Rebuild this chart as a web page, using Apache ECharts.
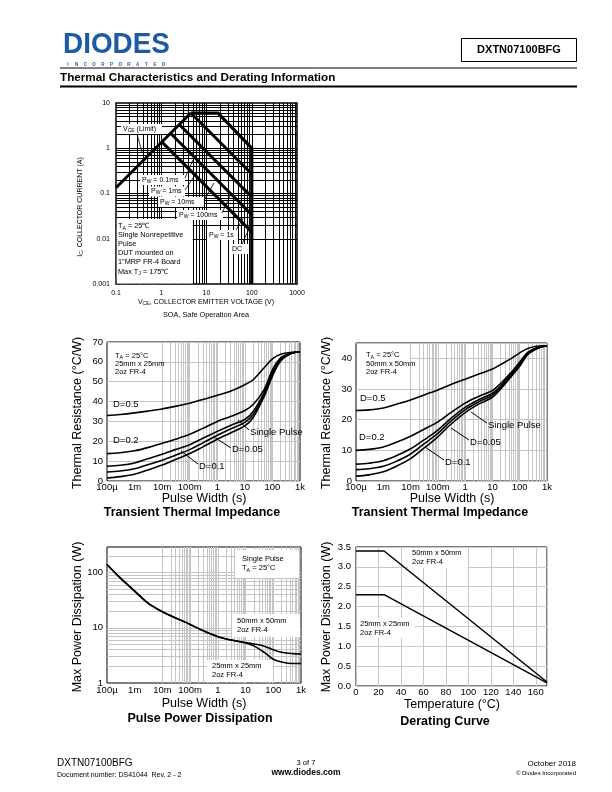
<!DOCTYPE html>
<html><head><meta charset="utf-8">
<script src="https://cdn.jsdelivr.net/npm/echarts@6/dist/echarts.min.js"></script>
<style>html,body{margin:0;padding:0;background:#fff}#c{width:612px;height:792px}</style>
</head><body><div id="c"></div>
<script>
// ---------------- DATA ----------------
// SOA chart (log-log)
const soaXTickLabels = ['0.1', '1', '10', '100', '1000'];
const soaYTickLabels = ['0.001', '0.01', '0.1', '1', '10'];
const soaVceLimit = [[0.1, 0.134], [4.5, 6]];
const soaOuter = [[4.5, 6], [18, 6], [100, 1], [100, 0.001]];
const soaPulse1 = [[4.5, 6], [100, 0.27]];
const soaPulse2 = [[2.5, 3.35], [100, 0.084]];
const soaPulse3 = [[1.6, 2.15], [100, 0.034]];
const soaPulse4 = [[1.03, 1.38], [100, 0.0142]];

// Pulse width categories (s) shared by transient / pulse power charts
const pulseWidth = [1e-4, 3e-4, 1e-3, 3e-3, 1e-2, 3e-2, 0.1, 0.3, 1, 3, 10, 20, 50, 100, 200, 500, 1000];
const pwTickLabels = ['100µ', '1m', '10m', '100m', '1', '10', '100', '1k'];

// Transient thermal impedance, 25mm x 25mm (°C/W)
const tti25_D05 = [33, 33.5, 34.3, 35.2, 36.3, 37.6, 39.2, 41, 43.2, 45.2, 48.5, 51, 57, 61.5, 63.8, 64.8, 65];
const tti25_D02 = [13.8, 14.2, 15.2, 16.8, 19, 21, 23.5, 26.5, 30, 32.5, 35.5, 38.5, 46, 56, 62, 64.5, 65];
const tti25_D01 = [7.4, 7.9, 9.1, 11.2, 13.5, 15.8, 18.3, 21.5, 25, 28, 31, 35, 44.5, 54.5, 61.5, 64.5, 65];
const tti25_D005 = [4.5, 5, 6.2, 8.2, 10.5, 13, 15.8, 19.2, 23, 26.2, 29.5, 33.5, 43.5, 53.5, 61, 64.4, 65];
const tti25_SP = [1.5, 2.2, 3.4, 5.5, 8, 10.8, 13.8, 17.2, 21, 24.2, 27.8, 32, 42.5, 52.8, 60.5, 64.3, 65];

// Transient thermal impedance, 50mm x 50mm (°C/W)
const tti50_D05 = [23, 23.2, 23.8, 25, 26.4, 28, 29.7, 31.5, 33.2, 34.8, 36.5, 38, 40, 41.8, 43.2, 44, 44];
const tti50_D02 = [10, 10.3, 11.1, 12.6, 14.6, 16.8, 19.3, 22.3, 25.4, 27.5, 29.5, 31.8, 35.5, 38.8, 42, 43.7, 44];
const tti50_D01 = [5.5, 5.8, 6.6, 8.2, 10.5, 13.3, 16.6, 20.4, 24, 26.4, 28.6, 31, 35, 38.2, 41.7, 43.6, 44];
const tti50_D005 = [3.7, 4, 4.8, 6.4, 8.8, 12, 15.5, 19.5, 23.2, 25.7, 28, 30.5, 34.6, 37.8, 41.5, 43.5, 44];
const tti50_SP = [1.6, 2, 3, 4.8, 7.3, 10.6, 14.4, 18.5, 22.3, 25, 27.3, 30, 34.2, 37.4, 41.3, 43.4, 44];

// Pulse power dissipation (W)
const ppd50 = [140, 80, 46, 28, 19.5, 15, 11.5, 8.8, 6.9, 6, 5.4, 5.1, 4.6, 4.0, 3.6, 3.4, 3.35];
const ppd25 = [140, 80, 46, 28, 19.5, 15, 11.5, 8.8, 6.9, 6, 5.3, 4.7, 3.5, 2.7, 2.4, 2.25, 2.25];
const ppdYTickLabels = ['1', '10', '100'];

// Derating curve
const derTemp = [0, 25, 170];
const der50 = [3.4, 3.4, 0.1];
const der25 = [2.3, 2.3, 0.08];

// ---------------- HELPERS ----------------
const FONT = '"Liberation Sans", Arial, Helvetica, sans-serif';
const mctx = document.createElement('canvas').getContext('2d');
function fnt(size, bold) { return (bold ? 'bold ' : '') + size + 'px ' + FONT; }
function T(x, y, text, size, o) {
  o = o || {};
  return { type: 'text', x: x, y: y, z: 100, rotation: o.rot || 0, scaleX: o.sx || 1,
    style: { text: text, x: 0, y: 0, font: fnt(size, o.bold), fill: o.color || '#000',
      textAlign: o.align || 'left', textVerticalAlign: o.va || 'middle',
      align: o.align || 'left', verticalAlign: o.va || 'middle' } };
}
// text with subscripts: parts = [[text, isSub], ...]
function S(x, y, parts, size, o) {
  o = o || {};
  const subSize = size * 0.72;
  let widths = parts.map(p => { mctx.font = fnt(p[1] ? subSize : size, o.bold); return mctx.measureText(p[0]).width; });
  const total = widths.reduce((a, b) => a + b, 0);
  let cx = o.align === 'center' ? -total / 2 : (o.align === 'right' ? -total : 0);
  const kids = [];
  parts.forEach((p, i) => {
    kids.push({ type: 'text', z: 100, x: cx, y: p[1] ? size * 0.3 : 0,
      style: { text: p[0], x: 0, y: 0, font: fnt(p[1] ? subSize : size, o.bold), fill: '#000',
        textAlign: 'left', align: 'left', textVerticalAlign: 'middle', verticalAlign: 'middle' } });
    cx += widths[i];
  });
  return { type: 'group', x: x, y: y, rotation: o.rot || 0, z: 100, children: kids };
}
function R(x, y, w, h) {
  return { type: 'rect', z: 99, shape: { x: x, y: y, width: w, height: h }, style: { fill: '#fff' } };
}
function L(x1, y1, x2, y2, w) {
  return { type: 'line', z: 101, shape: { x1: x1, y1: y1, x2: x2, y2: y2 }, style: { stroke: '#000', lineWidth: w || 1 } };
}
function logMinor(e0, e1, maxV) {
  const out = [];
  for (let e = e0; e < e1; e++) for (let k = 1; k <= 9; k++) {
    const v = k * Math.pow(10, e);
    if (v > Math.pow(10, e0) * 1.0001 && (!maxV || v < maxV * 0.999)) out.push(+v.toPrecision(6));
  }
  return out;
}
function logFormatter(labels, e0) {
  return function (v) {
    const l = Math.log10(v); const e = Math.round(l);
    if (Math.abs(l - e) > 1e-6) return '';
    return labels[e - e0] || '';
  };
}
function gridSeries(idx, xs, ys, color, width) {
  return { type: 'line', xAxisIndex: idx, yAxisIndex: idx, data: [], z: 1, silent: true,
    markLine: { z: 1, silent: true, symbol: 'none', animation: false, label: { show: false },
      lineStyle: { color: color, width: width, type: 'solid' },
      data: xs.map(v => ({ xAxis: v })).concat(ys.map(v => ({ yAxis: v }))) } };
}
function curve(idx, xs, ys, w, smooth) {
  return { type: 'line', xAxisIndex: idx, yAxisIndex: idx, z: 10, symbol: 'none', silent: true,
    smooth: smooth || false, animation: false,
    lineStyle: { color: '#000', width: w }, data: xs.map((x, i) => [x, ys[i]]) };
}
function pts(idx, arr, w) {
  return { type: 'line', xAxisIndex: idx, yAxisIndex: idx, z: 10, symbol: 'none', silent: true, animation: false,
    lineStyle: { color: '#000', width: w, join: 'miter' }, data: arr };
}
const lblSmall = { fontSize: 7, color: '#000', fontFamily: FONT };
const lblMid = { fontSize: 9.5, color: '#000', fontFamily: FONT };

// ---------------- CHART ----------------
const chart = echarts.init(document.getElementById('c'), null, { renderer: 'canvas' });
const noLine = { show: false };
const border = { show: true, borderColor: '#000', borderWidth: 1, backgroundColor: 'transparent' };

const grids = [
  Object.assign({ left: 116, top: 103, width: 181, height: 181 }, border, { borderWidth: 1.5 }),
  Object.assign({ left: 107, top: 342, width: 193, height: 139 }, border),
  Object.assign({ left: 356, top: 343, width: 191, height: 138 }, border),
  Object.assign({ left: 107, top: 547, width: 194, height: 136 }, border),
  Object.assign({ left: 356, top: 547, width: 191, height: 139 }, border)
];

function logX(idx, min, max, labels, e0, lbl, margin) {
  return { type: 'log', logBase: 10, gridIndex: idx, min: min, max: max, axisLine: noLine, axisTick: noLine,
    splitLine: noLine, minorSplitLine: noLine,
    axisLabel: Object.assign({ formatter: logFormatter(labels, e0), margin: margin, showMinLabel: true, showMaxLabel: true }, lbl) };
}

const xAxes = [
  logX(0, 0.1, 1000, soaXTickLabels, -1, lblSmall, 6),
  logX(1, 1e-4, 1000, pwTickLabels, -4, lblMid, 1.5),
  logX(2, 1e-4, 1000, pwTickLabels, -4, lblMid, 1.5),
  logX(3, 1e-4, 1000, pwTickLabels, -4, lblMid, 2),
  { type: 'value', gridIndex: 4, min: 0, max: 170, interval: 20, axisLine: noLine, axisTick: noLine,
    splitLine: { show: true, lineStyle: { color: '#c8c8c8', width: 1 } },
    axisLabel: Object.assign({ margin: 1, showMaxLabel: false }, lblMid) }
];
const yAxes = [
  { type: 'log', logBase: 10, gridIndex: 0, min: 0.001, max: 10, axisLine: noLine, axisTick: noLine, splitLine: noLine,
    axisLabel: Object.assign({ formatter: logFormatter(soaYTickLabels, -3), margin: 6 }, lblSmall) },
  { type: 'value', gridIndex: 1, min: 0, max: 70, interval: 10, axisLine: noLine, axisTick: noLine,
    splitLine: { show: true, lineStyle: { color: '#c4c4c4', width: 1 } }, axisLabel: Object.assign({ margin: 4 }, lblMid) },
  { type: 'value', gridIndex: 2, min: 0, max: 45, interval: 10, axisLine: noLine, axisTick: noLine,
    splitLine: { show: true, lineStyle: { color: '#c4c4c4', width: 1 } },
    axisLabel: Object.assign({ margin: 4, formatter: v => (v % 10 === 0 ? String(v) : '') }, lblMid) },
  { type: 'log', logBase: 10, gridIndex: 3, min: 1, max: 290, axisLine: noLine, axisTick: noLine, splitLine: noLine,
    axisLabel: Object.assign({ formatter: logFormatter(ppdYTickLabels, 0), margin: 4 }, lblMid) },
  { type: 'value', gridIndex: 4, min: 0, max: 3.5, interval: 0.5, axisLine: noLine, axisTick: noLine,
    splitLine: { show: true, lineStyle: { color: '#c8c8c8', width: 1 } },
    axisLabel: Object.assign({ margin: 5, formatter: v => v.toFixed(1) }, lblMid) }
];

const series = [
  gridSeries(0, logMinor(-1, 3), logMinor(-3, 1), '#000', 1),
  gridSeries(1, logMinor(-4, 3), [], '#c4c4c4', 1),
  gridSeries(2, logMinor(-4, 3), [], '#c4c4c4', 1),
  gridSeries(3, logMinor(-4, 3), logMinor(0, 3, 290), '#c4c4c4', 1),
  pts(0, soaVceLimit, 3), pts(0, soaOuter, 3.2), pts(0, soaPulse1, 3), pts(0, soaPulse2, 3),
  pts(0, soaPulse3, 3), pts(0, soaPulse4, 3),
  curve(1, pulseWidth, tti25_D05, 1.6, 0.35), curve(1, pulseWidth, tti25_D02, 1.6, 0.35),
  curve(1, pulseWidth, tti25_D01, 1.6, 0.35), curve(1, pulseWidth, tti25_D005, 1.6, 0.35),
  curve(1, pulseWidth, tti25_SP, 1.6, 0.35),
  curve(2, pulseWidth, tti50_D05, 1.6, 0.35), curve(2, pulseWidth, tti50_D02, 1.6, 0.35),
  curve(2, pulseWidth, tti50_D01, 1.6, 0.35), curve(2, pulseWidth, tti50_D005, 1.6, 0.35),
  curve(2, pulseWidth, tti50_SP, 1.6, 0.35),
  curve(3, pulseWidth, ppd50, 1.6, 0.35), curve(3, pulseWidth, ppd25, 1.6, 0.35),
  curve(4, derTemp, der50, 1.5, false), curve(4, derTemp, der25, 1.5, false)
];

const g = [];
// Header
g.push(T(63, 45, 'DIODES', 30, { bold: true, color: '#1d5aa6', sx: 0.93 }));
const incLetters = 'INCORPORATED'.split('');
incLetters.forEach((ch, i) => g.push(T(68 + i * 8.7, 65, ch, 4.5, { bold: true, color: '#1d5aa6', align: 'center' })));
g.push({ type: 'rect', z: 100, shape: { x: 461.5, y: 38.5, width: 115, height: 23 }, style: { fill: '#fff', stroke: '#000', lineWidth: 1 } });
g.push(T(519, 50, 'DXTN07100BFG', 11, { bold: true, align: 'center' }));
g.push({ type: 'line', z: 100, shape: { x1: 60, y1: 68, x2: 577, y2: 68 }, style: { stroke: '#000', lineWidth: 1 } });
g.push(T(60, 77.5, 'Thermal Characteristics and Derating Information', 11.7, { bold: true }));
g.push({ type: 'line', z: 100, shape: { x1: 60, y1: 86.5, x2: 577, y2: 86.5 }, style: { stroke: '#000', lineWidth: 2 } });

// SOA texts
g.push(S(80, 207, [['I', 0], ['C', 1], [', COLLECTOR CURRENT (A)', 0]], 7, { rot: Math.PI / 2, align: 'center' }));
g.push(S(206, 302, [['V', 0], ['CE', 1], [', COLLECTOR EMITTER VOLTAGE (V)', 0]], 7, { align: 'center' }));
g.push(T(206, 315, 'SOA, Safe Operation Area', 7.3, { align: 'center' }));
g.push(R(121, 124, 41, 10)); g.push(S(123, 129, [['V', 0], ['CE', 1], [' (Limit)', 0]], 7));
g.push(L(137, 134, 142, 152, 0.8));
g.push(R(140, 175, 45, 10)); g.push(S(142, 180, [['P', 0], ['W', 1], [' = 0.1ms', 0]], 7));
g.push(R(149, 186.5, 36, 10)); g.push(S(151, 191, [['P', 0], ['W', 1], [' = 1ms', 0]], 7));
g.push(R(158, 197, 46, 10)); g.push(S(160, 202, [['P', 0], ['W', 1], [' = 10ms', 0]], 7));
g.push(R(177, 210, 46, 10)); g.push(S(179, 215, [['P', 0], ['W', 1], [' = 100ms', 0]], 7));
g.push(R(207, 230, 31, 10)); g.push(S(209, 235, [['P', 0], ['W', 1], [' = 1s', 0]], 7));
g.push(R(230, 244, 18, 10)); g.push(T(232, 249, 'DC', 7));
g.push(L(185, 178, 193, 160, 0.8)); g.push(L(185, 190, 197, 172, 0.8));
g.push(L(204, 200, 214, 183, 0.8)); g.push(L(222, 213, 230, 196, 0.8));
g.push(L(236, 230, 244, 217, 0.8)); g.push(L(242, 244, 249, 229, 0.8));
g.push(R(116.8, 219, 76, 64.5));
g.push(S(118, 226, [['T', 0], ['A', 1], [' = 25℃', 0]], 7.3));
g.push(T(118, 235, 'Single Nonrepetitive', 7.3));
g.push(T(118, 244, 'Pulse', 7.3));
g.push(T(118, 253, 'DUT mounted on', 7.3));
g.push(T(118, 262, '1"MRP FR-4 Board', 7.3));
g.push(S(118, 271.5, [['Max T', 0], ['J', 1], [' = 175℃', 0]], 7.3));

// Transient 25mm
g.push(T(78, 413, 'Thermal Resistance (°C/W)', 12.5, { rot: Math.PI / 2, align: 'center' }));
g.push(T(204, 498.5, 'Pulse Width (s)', 12.5, { align: 'center' }));
g.push(T(192, 512.5, 'Transient Thermal Impedance', 12.5, { bold: true, align: 'center' }));
g.push(R(109, 345, 50, 32));
g.push(S(115, 355.5, [['T', 0], ['A', 1], [' = 25°C', 0]], 7.5));
g.push(T(115, 363.5, '25mm x 25mm', 7.5));
g.push(T(115, 371.5, '2oz FR-4', 7.5));
g.push(T(113, 404, 'D=0.5', 9.5)); g.push(T(113, 440, 'D=0.2', 9.5));
g.push(T(250, 432.5, 'Single Pulse', 9.5)); g.push(T(232, 449.5, 'D=0.05', 9.5)); g.push(T(199, 466, 'D=0.1', 9.5));
g.push(L(249, 430, 238, 420)); g.push(L(231, 448, 214, 437)); g.push(L(198, 464, 181, 451));

// Transient 50mm
g.push(T(327, 413, 'Thermal Resistance (°C/W)', 12.5, { rot: Math.PI / 2, align: 'center' }));
g.push(T(452, 498.5, 'Pulse Width (s)', 12.5, { align: 'center' }));
g.push(T(440, 512.5, 'Transient Thermal Impedance', 12.5, { bold: true, align: 'center' }));
g.push(R(358, 346, 52, 31));
g.push(S(366, 355, [['T', 0], ['A', 1], [' = 25°C', 0]], 7.5));
g.push(T(366, 363.5, '50mm x 50mm', 7.5));
g.push(T(366, 372, '2oz FR-4', 7.5));
g.push(T(360, 398.5, 'D=0.5', 9.5)); g.push(T(359, 437, 'D=0.2', 9.5));
g.push(T(488, 425, 'Single Pulse', 9.5)); g.push(T(470, 442, 'D=0.05', 9.5)); g.push(T(445, 462, 'D=0.1', 9.5));
g.push(L(487, 423, 471, 412)); g.push(L(469, 440, 451, 428)); g.push(L(444, 460, 425, 447));

// Pulse power
g.push(T(78, 617, 'Max Power Dissipation (W)', 12.5, { rot: Math.PI / 2, align: 'center' }));
g.push(T(204, 703.5, 'Pulse Width (s)', 12.5, { align: 'center' }));
g.push(T(200, 718.5, 'Pulse Power Dissipation', 12.5, { bold: true, align: 'center' }));
g.push(R(235, 550, 64, 28));
g.push(T(242, 559, 'Single Pulse', 7.5));
g.push(S(242, 568, [['T', 0], ['A', 1], [' = 25°C', 0]], 7.5));
g.push(R(232, 614, 68, 23));
g.push(T(237, 621, '50mm x 50mm', 7.5)); g.push(T(237, 630, '2oz FR-4', 7.5));
g.push(R(207, 660, 66, 22));
g.push(T(212, 666, '25mm x 25mm', 7.5)); g.push(T(212, 675, '2oz FR-4', 7.5));

// Derating
g.push(T(327, 617, 'Max Power Dissipation (W)', 12.5, { rot: Math.PI / 2, align: 'center' }));
g.push(T(452, 704.5, 'Temperature (°C)', 12.5, { align: 'center' }));
g.push(T(445, 721.5, 'Derating Curve', 12.5, { bold: true, align: 'center' }));
g.push(R(408, 548, 60, 20));
g.push(T(412, 553, '50mm x 50mm', 7.5)); g.push(T(412, 562, '2oz FR-4', 7.5));
g.push(R(357, 618, 58, 20));
g.push(T(360, 624, '25mm x 25mm', 7.5)); g.push(T(360, 633, '2oz FR-4', 7.5));

// Footer
g.push(T(57, 763, 'DXTN07100BFG', 10));
g.push(T(57, 775, 'Document number: DS41044  Rev. 2 - 2', 7));
g.push(T(306, 763, '3 of 7', 7.5, { align: 'center' }));
g.push(T(306, 773, 'www.diodes.com', 8.5, { bold: true, align: 'center' }));
g.push(T(576, 764, 'October 2018', 8, { align: 'right' }));
g.push(T(576, 773.5, '© Diodes Incorporated', 6, { align: 'right' }));

chart.setOption({
  animation: false,
  backgroundColor: '#fff',
  textStyle: { fontFamily: FONT },
  grid: grids, xAxis: xAxes, yAxis: yAxes, series: series,
  graphic: { elements: g }
});
</script></body></html>
